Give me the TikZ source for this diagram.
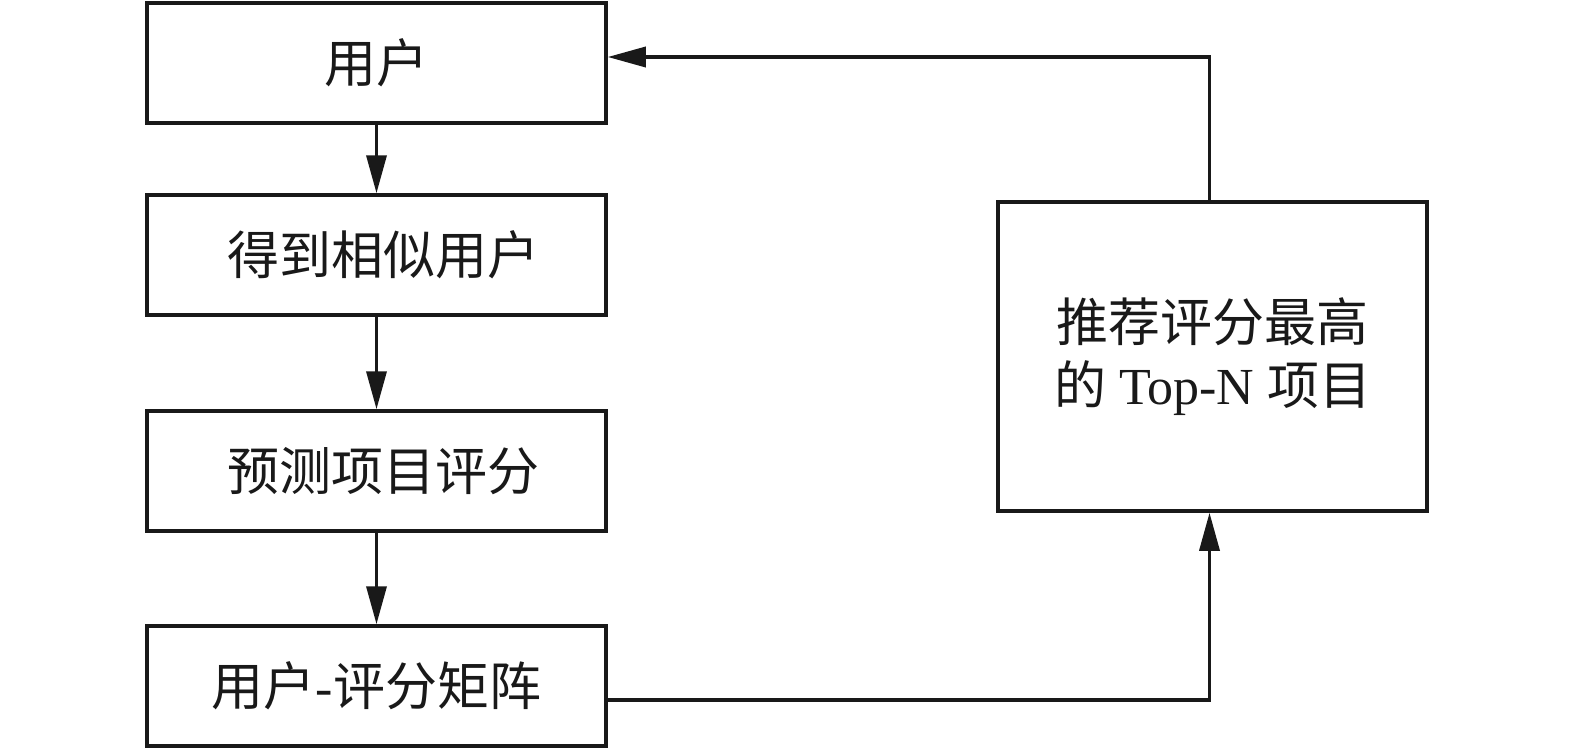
\documentclass[tikz,border=0pt]{standalone}
\usepackage{fontspec}
\setmainfont{Liberation Serif}
\newfontfamily\cjk{Noto Sans CJK SC}
\usetikzlibrary{arrows.meta}
\begin{document}
\begin{tikzpicture}[x=1pt,y=-1pt,
  box/.style={draw=black!90, line width=3.5pt, minimum width=459pt, minimum height=120pt, inner sep=0pt, font=\fontsize{52}{62}\selectfont, text=black!90},
  rbox/.style={draw=black!90, line width=3.5pt, minimum width=429pt, minimum height=309pt, inner sep=0pt, align=center, font=\fontsize{52}{63}\selectfont, text=black!90},
  conn/.style={draw=black!90, line width=3.5pt, -{Triangle[length=38pt,width=20pt]}}]
\useasboundingbox (0,0) rectangle (1575,750);
\node[box] (u) at (376.5,63) {\cjk 用户};
\node[box] (s) at (376.5,255) {\hspace{14pt}\cjk 得到相似用户};
\node[box] (p) at (376.5,471) {\hspace{14pt}\cjk 预测项目评分};
\node[box] (m) at (376.5,686) {{\cjk 用户}-{\cjk 评分矩阵}};
\node[rbox] (r) at (1212.5,356.5) {{\cjk 推荐评分最高}\\{\cjk 的} Top-N {\cjk 项目}};
\draw[conn] (u) -- (s);
\draw[conn] (s) -- (p);
\draw[conn] (p) -- (m);
\draw[conn] (m.east |- 0,700) -| ([xshift=-3pt]r.south);
\draw[conn] ([xshift=-3pt]r.north) |- (u.east |- 0,57);
\end{tikzpicture}
\end{document}
